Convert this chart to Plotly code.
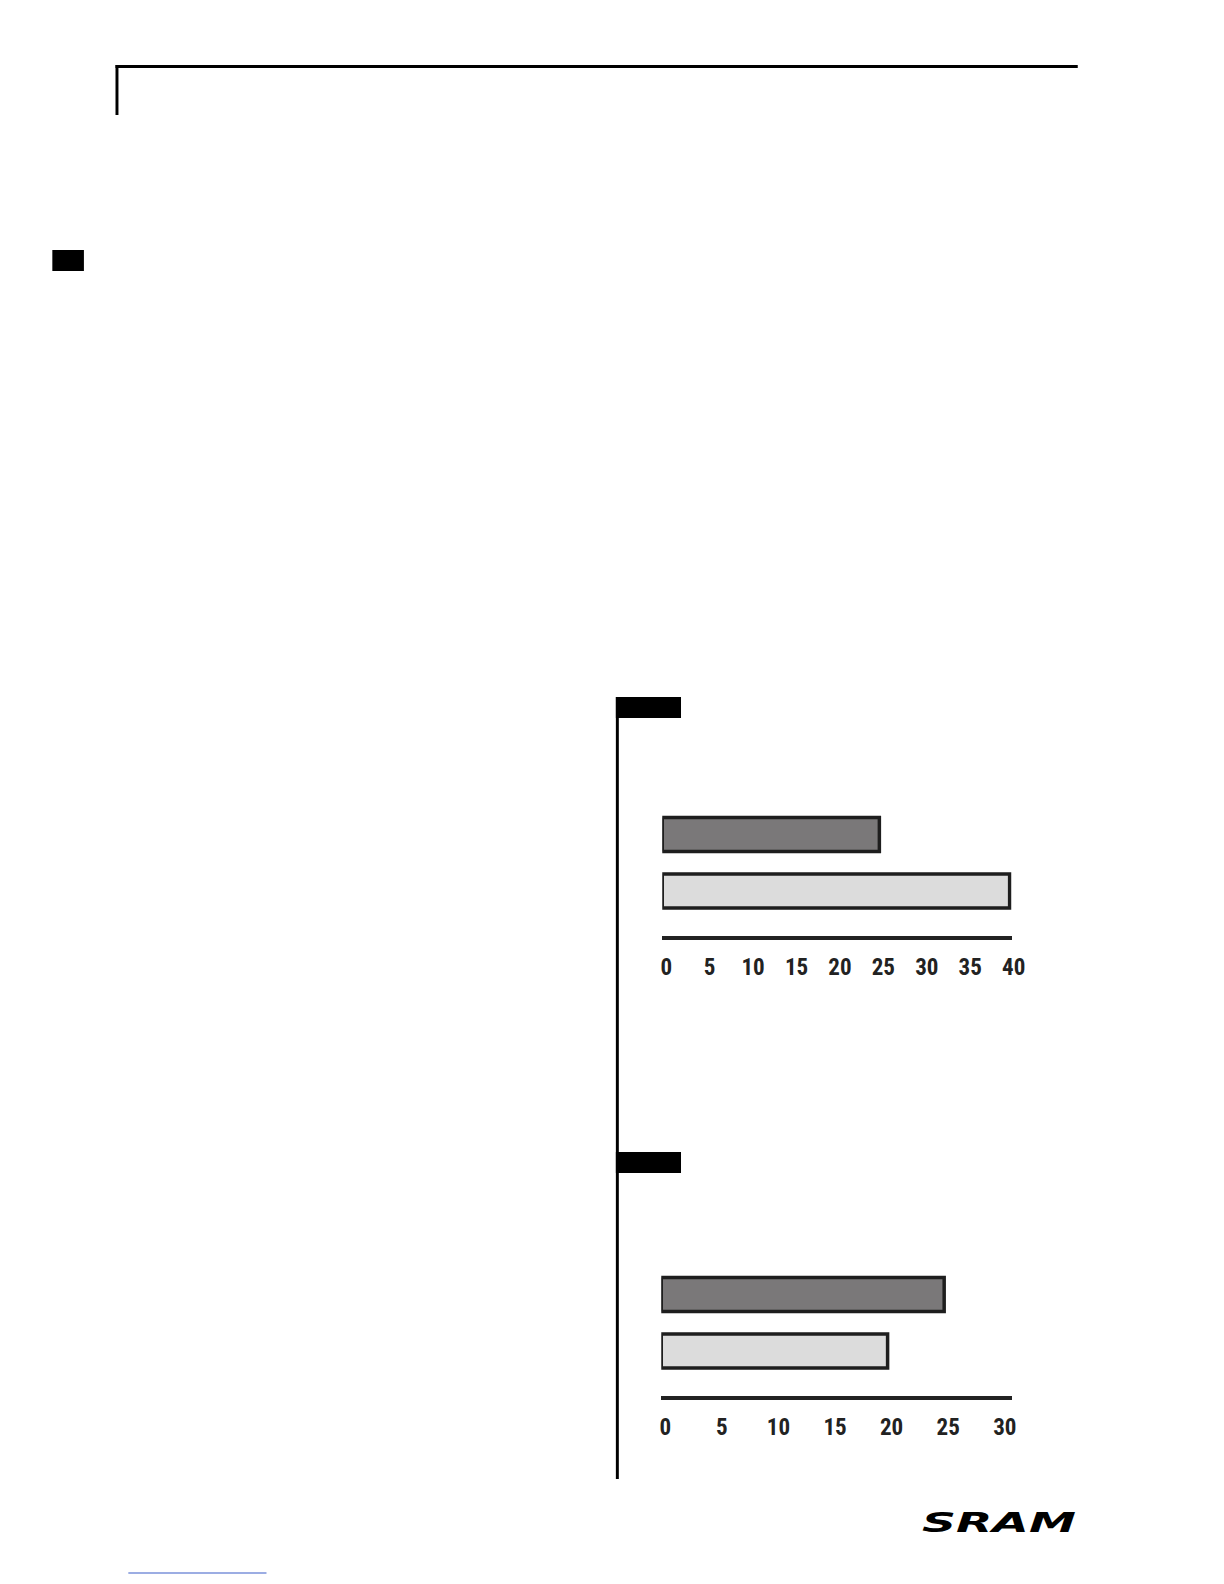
import plotly.graph_objects as go

W, H = 1224, 1584

# ---- data ----
categories = ["Bar 1", "Bar 2"]
chart1_values = [25, 40]
chart2_values = [25, 20]
chart1_ticks = [0, 5, 10, 15, 20, 25, 30, 35, 40]
chart2_ticks = [0, 5, 10, 15, 20, 25, 30]
bar_colors = ["#7a7879", "#dcdcdc"]
logo_text = "SRAM"


def px(x):
    return x / W


def py(y):
    return 1 - y / H


fig = go.Figure()

fig.add_trace(go.Bar(
    x=chart1_values, y=categories, orientation="h",
    marker=dict(color=bar_colors, line=dict(color="#1e1e1e", width=3.5)),
    width=0.6, xaxis="x", yaxis="y", showlegend=False, hoverinfo="x",
))
fig.add_trace(go.Bar(
    x=chart2_values, y=categories, orientation="h",
    marker=dict(color=bar_colors, line=dict(color="#1e1e1e", width=3.5)),
    width=0.6, xaxis="x2", yaxis="y2", showlegend=False, hoverinfo="x",
))

tickfont = dict(family="Roboto Condensed, Liberation Sans Narrow, DejaVu Sans Condensed, sans-serif",
                size=23, color="#222222", weight="bold")

common_x = dict(showgrid=False, zeroline=False, showline=True, linecolor="#222222",
                linewidth=4, ticks="outside", ticklen=7, tickcolor="rgba(0,0,0,0)",
                tickfont=tickfont, ticklabelshift=4, fixedrange=True)
common_y = dict(showgrid=False, zeroline=False, showline=False, showticklabels=False,
                ticks="", range=[1.796, -0.611], fixedrange=True)

fig.update_layout(
    width=W, height=H,
    margin=dict(l=0, r=0, t=0, b=0),
    paper_bgcolor="white", plot_bgcolor="rgba(0,0,0,0)",
    xaxis=dict(domain=[px(669), px(1023)], range=[0, 40.23],
               tickvals=chart1_ticks, anchor="y", **common_x),
    yaxis=dict(domain=[py(936), py(800)], anchor="x", **common_y),
    xaxis2=dict(domain=[px(668), px(1023)], range=[0, 30.96],
                tickvals=chart2_ticks, anchor="y2", **common_x),
    yaxis2=dict(domain=[py(1396), py(1260)], anchor="x2", **common_y),
)

shapes = []


def rect(x0, y0, x1, y1, color="black"):
    shapes.append(dict(type="rect", xref="paper", yref="paper",
                       x0=px(x0), x1=px(x1), y0=py(y1), y1=py(y0),
                       fillcolor=color, line=dict(width=0), layer="above"))


# page decorations
rect(115, 65, 1090, 68)
rect(115, 65, 118, 115)
rect(51, 250, 83, 271)
# chart tabs and side rule
rect(622, 697, 688, 718)
rect(622, 1152, 688, 1173)
rect(622, 697, 625, 1479)
# link underline at bottom
shapes.append(dict(type="line", xref="paper", yref="paper",
                   x0=px(128), x1=px(268), y0=py(1573), y1=py(1573),
                   line=dict(color="#3a5cc8", width=1.2)))

fig.update_layout(shapes=shapes)

# logo text (stretched horizontally after render)
fig.add_annotation(
    text=logo_text, x=px(1010), y=py(1522), xref="paper", yref="paper",
    xanchor="center", yanchor="middle", showarrow=False,
    font=dict(family="DejaVu Sans", size=27, color="black", weight="bold", style="italic"),
)

post = """
document.body.style.margin='0px';
document.body.style.overflow='hidden';
var gd = document.getElementById('{plot_id}');
gd.querySelectorAll('.annotation-text').forEach(function(t){
  if (t.textContent === 'SRAM') {
    var b = t.getBBox();
    var cx = b.x + b.width / 2, cy = b.y + b.height / 2;
    t.setAttribute('transform', 'translate(' + cx + ',' + cy + ') scale(1.75,1) translate(' + (-cx) + ',' + (-cy) + ')');
  }
});
"""

fig.write_html("out.html", config={"displayModeBar": False}, post_script=post)
